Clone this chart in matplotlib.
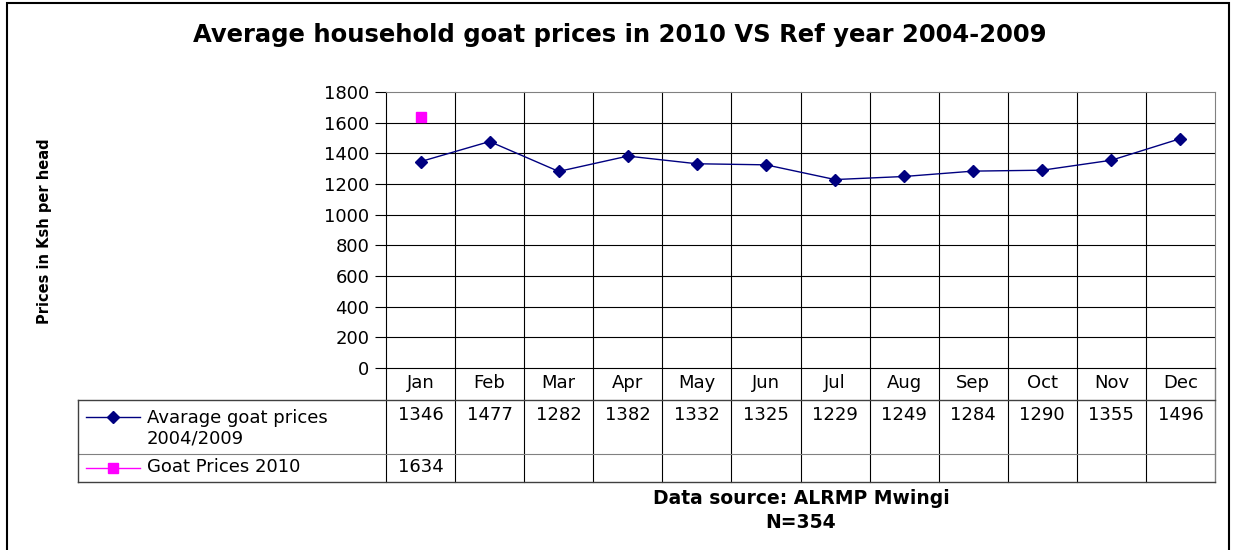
import matplotlib.pyplot as plt
from matplotlib.lines import Line2D
from matplotlib.patches import Rectangle

# data
months = ['Jan', 'Feb', 'Mar', 'Apr', 'May', 'Jun',
          'Jul', 'Aug', 'Sep', 'Oct', 'Nov', 'Dec']
avg_prices = [1346, 1477, 1282, 1382, 1332, 1325, 1229, 1249, 1284, 1290, 1355, 1496]
prices_2010 = [1634]
avg_label = 'Avarage goat prices\n2004/2009'
label_2010 = 'Goat Prices 2010'
y_ticks = list(range(0, 1801, 200))

plt.rcParams['font.family'] = ['DejaVu Sans']

W, H = 1235, 550
fig = plt.figure(figsize=(W / 100, H / 100), dpi=100)
fig.patch.set_facecolor('white')

# plot area in pixel terms
px_l, px_r, px_t, px_b = 386, 1215, 92, 368
ax = fig.add_axes([px_l / W, 1 - px_b / H, (px_r - px_l) / W, (px_b - px_t) / H])

xs = list(range(len(months)))
ax.plot(xs, avg_prices, color='#000080', lw=1.0, marker='D', ms=6.5,
        markerfacecolor='#000080', markeredgecolor='#000080', zorder=5)
ax.plot(xs[:len(prices_2010)], prices_2010, color='#FF00FF', lw=1.0,
        marker='s', ms=6.5, linestyle='none', zorder=5)

ax.set_xlim(-0.5, len(months) - 0.5)
ax.set_ylim(0, 1800)
ax.set_yticks(y_ticks)
ax.set_yticklabels([str(v) for v in y_ticks], fontsize=13)
ax.tick_params(axis='y', direction='out', length=8, width=0.8, pad=4)
ax.set_xticks([])

for v in y_ticks[1:-1]:
    ax.axhline(v, color='black', lw=0.8, zorder=1)

for s in ['top', 'right']:
    ax.spines[s].set_color('#808080')
ax.spines['left'].set_color('black')
ax.spines['bottom'].set_color('black')

# data table under the plot (axes-fraction rows)
ph = px_b - px_t
pw = px_r - px_l
def fy(py):
    return (px_b - py) / ph
def fx(px):
    return (px - px_l) / pw

row_month, row1, row_end = fy(400), fy(454), fy(482)
tab_left = fx(78)

# vertical category separators running through plot and table
for i in range(1, len(months)):
    ax.axvline(i - 0.5, ymin=row_end, ymax=1, color='black', lw=0.8,
               clip_on=False, zorder=1)
ax.plot([1, 1], [row_end, 0], transform=ax.transAxes, color='#808080',
        lw=1.0, clip_on=False)
ax.plot([0, 0], [row_end, 0], transform=ax.transAxes, color='black',
        lw=0.8, clip_on=False)

ax.plot([tab_left, 1], [row_month, row_month], transform=ax.transAxes,
        color='#404040', lw=1.0, clip_on=False)
ax.plot([tab_left, 1], [row1, row1], transform=ax.transAxes,
        color='#808080', lw=0.8, clip_on=False)
ax.plot([tab_left, 1], [row_end, row_end], transform=ax.transAxes,
        color='#404040', lw=1.0, clip_on=False)
ax.plot([tab_left, tab_left], [row_end, row_month], transform=ax.transAxes,
        color='#404040', lw=1.0, clip_on=False)

xt = ax.get_xaxis_transform()
for i, m in enumerate(months):
    ax.text(i, fy(383), m, transform=xt, ha='center', va='center', fontsize=13)
for i, v in enumerate(avg_prices):
    ax.text(i, fy(415), str(v), transform=xt, ha='center', va='center', fontsize=13)
for i, v in enumerate(prices_2010):
    ax.text(i, fy(467), str(v), transform=xt, ha='center', va='center', fontsize=13)

# legend keys inside the table
for py, col, mk in [(417, '#000080', 'D'), (468, '#FF00FF', 's')]:
    ax.add_line(Line2D([fx(86), fx(140)], [fy(py), fy(py)], transform=ax.transAxes,
                       color=col, lw=1.0, clip_on=False))
    ax.add_line(Line2D([fx(113)], [fy(py)], transform=ax.transAxes, color=col,
                       marker=mk, ms=6 if mk == 'D' else 6.5, clip_on=False))
ax.text(fx(147), fy(428), avg_label, transform=ax.transAxes, ha='left',
        va='center', fontsize=13, linespacing=1.2)
ax.text(fx(147), fy(467), label_2010, transform=ax.transAxes, ha='left',
        va='center', fontsize=13)

# titles and notes
fig.text(620 / W, 1 - 35 / H, 'Average household goat prices in 2010 VS Ref year 2004-2009',
         ha='center', va='center', fontsize=17.5, fontweight='bold')
fig.text(45 / W, 1 - 231 / H, 'Prices in Ksh per head', rotation=90,
         ha='center', va='center', fontsize=10.5, fontweight='bold')
fig.text(801 / W, 1 - 498 / H, 'Data source: ALRMP Mwingi',
         ha='center', va='center', fontsize=13.5, fontweight='bold')
fig.text(801 / W, 1 - 522 / H, 'N=354',
         ha='center', va='center', fontsize=13.5, fontweight='bold')

# chart frame
fig.add_artist(Rectangle((7 / W, -0.02), (1229 - 7) / W, 1.02 - 3 / H,
                         transform=fig.transFigure, fill=False,
                         edgecolor='black', lw=1.5))

fig.savefig('out.png', dpi=100)
